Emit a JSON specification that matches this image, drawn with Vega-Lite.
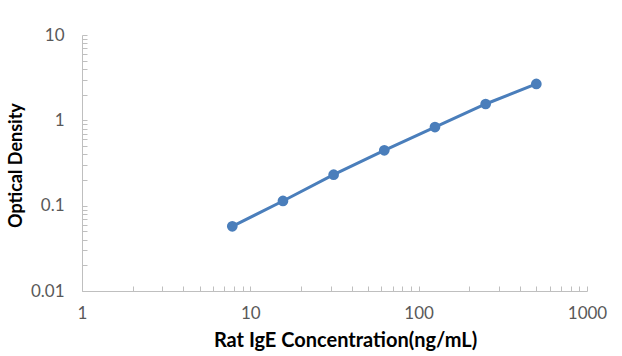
{
  "$schema": "https://vega.github.io/schema/vega-lite/v6.json",
  "width": 505,
  "height": 256,
  "autosize": "none",
  "padding": {"left": 82, "top": 35, "right": 35, "bottom": 65},
  "background": "white",
  "config": {
    "view": {"stroke": null},
    "font": "Lato"
  },
  "data": {
    "values": [
      {"conc": 7.8125, "od": 0.0573},
      {"conc": 15.625, "od": 0.1135},
      {"conc": 31.25, "od": 0.2307},
      {"conc": 62.5, "od": 0.4456},
      {"conc": 125, "od": 0.835},
      {"conc": 250, "od": 1.554},
      {"conc": 500, "od": 2.667}
    ]
  },
  "encoding": {
    "x": {
      "field": "conc",
      "type": "quantitative",
      "scale": {"type": "log", "domain": [1, 1000], "nice": false},
      "axis": {
        "title": "Rat IgE Concentration(ng/mL)",
        "values": [1,2,3,4,5,6,7,8,9,10,20,30,40,50,60,70,80,90,100,200,300,400,500,600,700,800,900,1000],
        "labelExpr": "indexof([1,10,100,1000], datum.value) >= 0 ? format(datum.value, '~g') : ''",
        "grid": false,
        "domainColor": "#BFBFBF",
        "tickColor": "#BFBFBF",
        "tickSize": -5,
        "labelPadding": 19,
        "labelFont": "Lato",
        "labelFontSize": 17,
        "labelColor": "#595959",
        "labelFlush": false,
        "labelOverlap": false,
        "titleFont": "Lato",
        "titleFontSize": 20,
        "titleFontWeight": "bold",
        "titleColor": "#000000",
        "titleX": 263,
        "titleY": 55,
        "titleBaseline": "alphabetic"
      }
    },
    "y": {
      "field": "od",
      "type": "quantitative",
      "scale": {"type": "log", "domain": [0.01, 10], "nice": false},
      "axis": {
        "title": "Optical Density",
        "values": [0.01,0.02,0.03,0.04,0.05,0.06,0.07,0.08,0.09,0.1,0.2,0.3,0.4,0.5,0.6,0.7,0.8,0.9,1,2,3,4,5,6,7,8,9,10],
        "labelExpr": "indexof([0.01,0.1,1,10], datum.value) >= 0 ? format(datum.value, '~g') : ''",
        "grid": false,
        "domainColor": "#BFBFBF",
        "tickColor": "#BFBFBF",
        "tickSize": -5,
        "labelPadding": 23,
        "labelFont": "Lato",
        "labelFontSize": 17,
        "labelColor": "#595959",
        "labelFlush": false,
        "labelOverlap": false,
        "titleFont": "Lato",
        "titleFontSize": 18,
        "titleFontWeight": "bold",
        "titleColor": "#000000",
        "titleX": -57,
        "titleY": 130
      }
    }
  },
  "layer": [
    {"mark": {"type": "line", "color": "#4A7EBB", "strokeWidth": 3}},
    {"mark": {"type": "point", "filled": true, "opacity": 1, "color": "#4A7EBB", "size": 115}}
  ]
}
